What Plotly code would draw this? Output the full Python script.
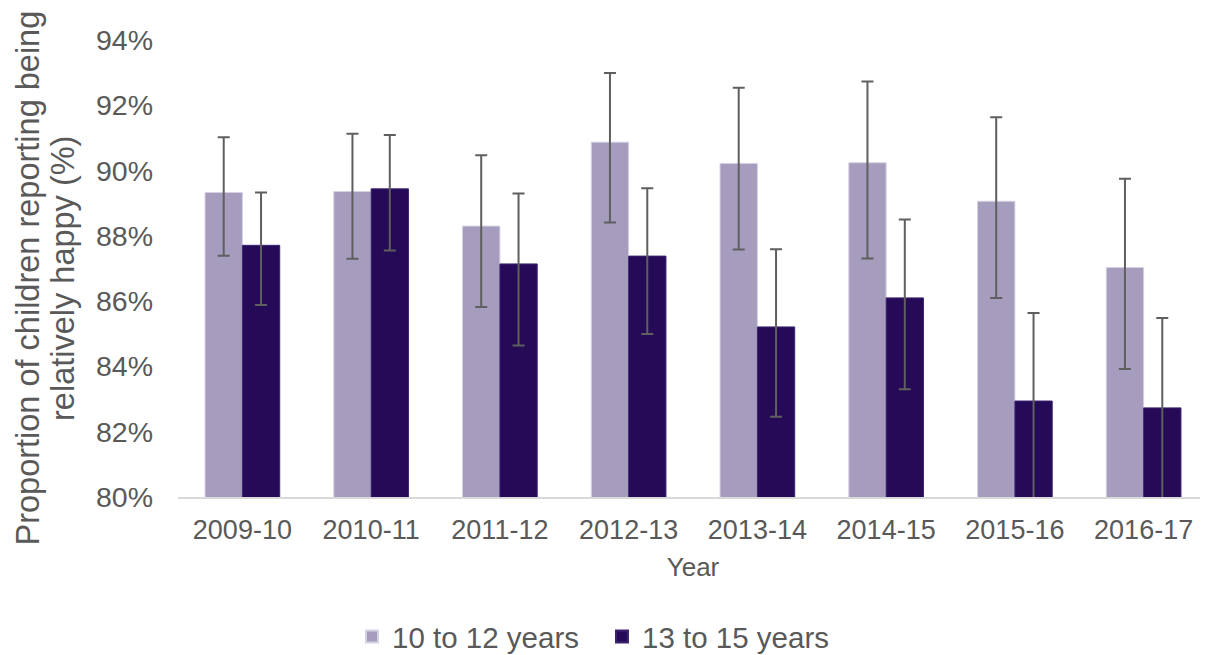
import plotly.graph_objects as go

years = ["2009-10", "2010-11", "2011-12", "2012-13", "2013-14", "2014-15", "2015-16", "2016-17"]

# 10 to 12 years
young = [89.33, 89.36, 88.30, 90.87, 90.22, 90.24, 89.06, 87.03]
young_hi = [91.02, 91.13, 90.47, 92.99, 92.54, 92.73, 91.63, 89.75]
young_lo = [87.39, 87.30, 85.82, 88.41, 87.58, 87.31, 86.10, 83.92]

# 13 to 15 years
older = [87.71, 89.44, 87.14, 87.38, 85.21, 86.10, 82.94, 82.73]
older_hi = [89.33, 91.09, 89.30, 89.46, 87.59, 88.50, 85.64, 85.48]
older_lo = [85.88, 87.55, 84.64, 84.99, 82.46, 83.30, 79.60, 79.40]

y_ticks = [80, 82, 84, 86, 88, 90, 92, 94]
y_tick_text = ["80%", "82%", "84%", "86%", "88%", "90%", "92%", "94%"]

y_title_lines = ["Proportion of children reporting being", "relatively happy (%)"]

FONT = "Liberation Sans, Arial, sans-serif"
TXT = "#595959"
ERR = "#5f5f5f"


def err(vals, hi, lo):
    return dict(
        type="data", symmetric=False,
        array=[h - v for h, v in zip(hi, vals)],
        arrayminus=[v - l for v, l in zip(vals, lo)],
        color=ERR, thickness=2, width=6,
    )


fig = go.Figure()
fig.add_trace(go.Bar(
    name="10 to 12 years", x=years, y=young,
    marker=dict(color="#A69CBD", line=dict(color="#D6D1E3", width=1)),
    error_y=err(young, young_hi, young_lo),
))
fig.add_trace(go.Bar(
    name="13 to 15 years", x=years, y=older,
    marker=dict(color="#250A57", line=dict(color="#3C2470", width=1)),
    error_y=err(older, older_hi, older_lo),
))

fig.update_layout(
    width=1200, height=647,
    margin=dict(l=170, r=0, t=32, b=158, autoexpand=False),
    paper_bgcolor="white", plot_bgcolor="white",
    barmode="group", bargap=0.42, bargroupgap=0,
    font=dict(family=FONT, color=TXT, size=26),
    showlegend=True,
    legend=dict(
        orientation="h", xref="container", yref="container",
        x=0.495, xanchor="center", y=0.028, yanchor="middle",
        font=dict(size=29.5, color=TXT), bgcolor="rgba(0,0,0,0)",
        itemsizing="constant", entrywidth=205,
    ),
)
for xpos, line in zip([-0.1461, -0.1117], y_title_lines):
    fig.add_annotation(
        text=line, xref="paper", yref="paper", x=xpos, y=0.4792,
        xanchor="center", yanchor="middle", textangle=-90, showarrow=False,
        font=dict(size=32.5, color=TXT, family=FONT),
    )
fig.update_xaxes(
    type="category", automargin=False,
    showline=True, linecolor="#D9D9D9", linewidth=2,
    showgrid=False, ticks="", tickfont=dict(size=27, color=TXT),
    ticklabelstandoff=8,
    title=dict(text="Year", font=dict(size=26, color=TXT), standoff=13),
)
fig.update_yaxes(
    range=[80, 94], tickvals=y_ticks, ticktext=y_tick_text, automargin=False,
    showline=False, showgrid=False, zeroline=False, ticks="",
    tickfont=dict(size=28.5, color=TXT), ticklabelstandoff=24,
)

fig.write_html("out.html")
